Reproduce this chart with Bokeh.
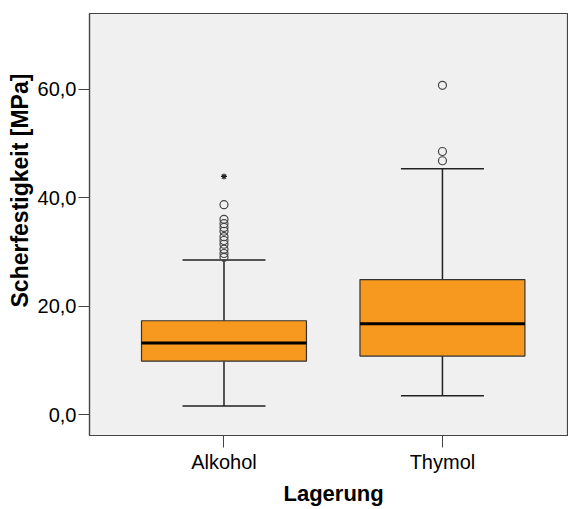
from bokeh.plotting import figure
from bokeh.models import FixedTicker, Range1d, ColumnDataSource, Title
from bokeh.embed import file_html
from bokeh.resources import INLINE

# ---- data ----
categories = ["Alkohol", "Thymol"]
positions = [1, 2]
q1 = [9.85, 10.8]
median = [13.2, 16.75]
q3 = [17.3, 24.9]
lower_whisker = [1.6, 3.5]
upper_whisker = [28.5, 45.3]

outlier_x = [1] * 11 + [2] * 3
outlier_y = [29.0, 29.7, 30.5, 31.4, 32.1, 32.8, 33.8, 34.5, 35.2, 36.0, 38.7,
             46.8, 48.5, 60.7]
extreme_x = [1]
extreme_y = [43.9]

y_ticks = [0, 20, 40, 60]
y_tick_labels = ["0,0", "20,0", "40,0", "60,0"]

x_title = "Lagerung"
y_title = "Scherfestigkeit [MPa]"

box_width = 0.755
cap_width = 0.38
FONT = "Liberation Sans"

p = figure(width=568, height=509, output_backend="svg", toolbar_location=None,
           x_range=Range1d(0.3844, 2.577), y_range=Range1d(-3.85, 73.94),
           min_border_left=89, min_border_right=0, min_border_top=13,
           min_border_bottom=72)
p.background_fill_color = "#F0F0F0"
p.border_fill_color = "white"
p.outline_line_color = "#444444"
p.outline_line_width = 1.2
p.xgrid.visible = False
p.ygrid.visible = False

src = ColumnDataSource(dict(x=positions, q1=q1, med=median, q3=q3,
                            lo=lower_whisker, hi=upper_whisker,
                            cl=[x - cap_width / 2 for x in positions],
                            cr=[x + cap_width / 2 for x in positions],
                            bl=[x - box_width / 2 for x in positions],
                            br=[x + box_width / 2 for x in positions]))

# whiskers
p.segment(x0="x", y0="q3", x1="x", y1="hi", source=src, line_color="#222222", line_width=1.5)
p.segment(x0="x", y0="q1", x1="x", y1="lo", source=src, line_color="#222222", line_width=1.5)
p.segment(x0="cl", y0="hi", x1="cr", y1="hi", source=src, line_color="#222222", line_width=1.5)
p.segment(x0="cl", y0="lo", x1="cr", y1="lo", source=src, line_color="#222222", line_width=1.5)
# boxes
p.vbar(x="x", width=box_width, bottom="q1", top="q3", source=src,
       fill_color="#F8991F", line_color="#333333", line_width=1.2)
# median
p.segment(x0="bl", y0="med", x1="br", y1="med", source=src, line_color="black", line_width=3)

# outliers
p.scatter(outlier_x, outlier_y, marker="circle", size=8, fill_color=None,
          line_color="#444444", line_width=1.2)
p.scatter(extreme_x, extreme_y, marker="asterisk", size=6,
          line_color="#222222", line_width=1.2)

# axes
p.xaxis.ticker = FixedTicker(ticks=positions)
p.xaxis.major_label_overrides = {pos: c for pos, c in zip(positions, categories)}
p.yaxis.ticker = FixedTicker(ticks=y_ticks)
p.yaxis.major_label_overrides = {t: l for t, l in zip(y_ticks, y_tick_labels)}
for ax in (p.xaxis, p.yaxis):
    ax.axis_line_color = "#444444"
    ax.axis_line_width = 1.2
    ax.major_tick_in = 0
    ax.minor_tick_line_color = None
    ax.major_tick_line_color = "#444444"
    ax.major_label_text_font = FONT
    ax.major_label_text_font_size = "20px"
    ax.major_label_text_color = "black"
p.xaxis.major_tick_out = 12
p.xaxis.major_label_standoff = 3
p.yaxis.major_tick_out = 11
p.yaxis.major_label_standoff = 2

# axis titles
p.add_layout(Title(text=x_title, align="left", offset=194, text_font=FONT,
                   text_font_style="bold", text_font_size="22px",
                   text_color="black", standoff=7), "below")
p.add_layout(Title(text=y_title, align="left", offset=128, text_font=FONT,
                   text_font_style="bold", text_font_size="23px",
                   text_color="black", standoff=4), "left")

open("out.html", "w").write(file_html(p, INLINE))
